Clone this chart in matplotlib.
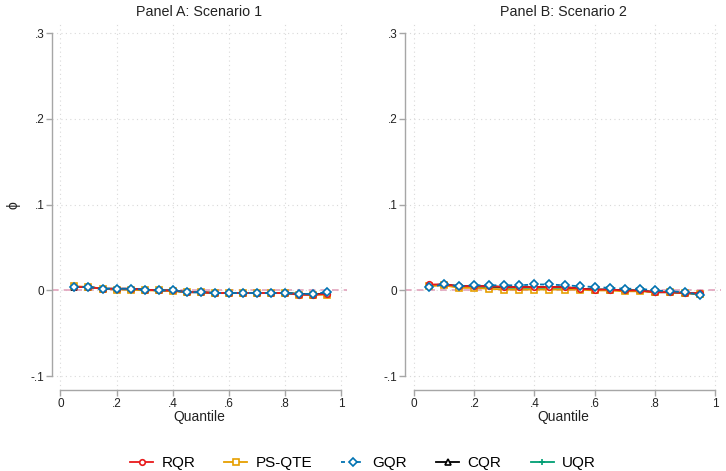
import matplotlib
matplotlib.use("Agg")
import matplotlib.pyplot as plt
from matplotlib.lines import Line2D

plt.rcParams['font.family'] = ['Liberation Sans', 'DejaVu Sans']

quantiles = [0.05, 0.10, 0.15, 0.20, 0.25, 0.30, 0.35, 0.40, 0.45, 0.50,
             0.55, 0.60, 0.65, 0.70, 0.75, 0.80, 0.85, 0.90, 0.95]

# Panel A: Scenario 1
a_rqr = [0.004, 0.004, 0.002, 0.002, 0.002, 0.001, 0.000, 0.000, -0.002, -0.002,
         -0.003, -0.003, -0.003, -0.003, -0.003, -0.003, -0.005, -0.005, -0.004]
a_psqte = [0.005, 0.004, 0.002, 0.001, 0.001, 0.000, 0.000, -0.001, -0.002, -0.002,
           -0.003, -0.003, -0.003, -0.003, -0.003, -0.003, -0.005, -0.005, -0.005]
a_gqr = [0.004, 0.004, 0.002, 0.002, 0.002, 0.001, 0.000, 0.000, -0.002, -0.002,
         -0.003, -0.003, -0.003, -0.003, -0.003, -0.003, -0.004, -0.004, -0.002]
a_cqr = [0.004, 0.004, 0.002, 0.002, 0.002, 0.001, 0.000, 0.000, -0.002, -0.002,
         -0.003, -0.003, -0.003, -0.003, -0.003, -0.003, -0.004, -0.005, -0.003]
a_uqr = [0.004, 0.004, 0.002, 0.002, 0.001, 0.001, 0.000, 0.000, -0.002, -0.002,
         -0.003, -0.003, -0.003, -0.003, -0.003, -0.003, -0.004, -0.005, -0.003]

# Panel B: Scenario 2
b_rqr = [0.007, 0.007, 0.005, 0.005, 0.005, 0.004, 0.004, 0.004, 0.004, 0.004,
         0.002, 0.001, 0.001, 0.000, 0.000, -0.002, -0.002, -0.003, -0.003]
b_psqte = [0.005, 0.006, 0.003, 0.003, 0.002, 0.001, 0.001, 0.001, 0.001, 0.001,
           0.001, 0.000, 0.000, -0.001, -0.001, -0.002, -0.002, -0.003, -0.004]
b_gqr = [0.004, 0.007, 0.005, 0.006, 0.006, 0.006, 0.006, 0.007, 0.007, 0.006,
         0.005, 0.004, 0.003, 0.002, 0.002, 0.000, -0.001, -0.002, -0.005]
b_cqr = [0.006, 0.007, 0.005, 0.005, 0.005, 0.004, 0.004, 0.004, 0.004, 0.004,
         0.002, 0.001, 0.001, 0.000, 0.000, -0.002, -0.002, -0.003, -0.004]
b_uqr = [0.006, 0.007, 0.004, 0.004, 0.004, 0.003, 0.003, 0.003, 0.003, 0.003,
         0.002, 0.001, 0.001, 0.000, 0.000, -0.002, -0.002, -0.003, -0.004]

series_names = ["RQR", "PS-QTE", "GQR", "CQR", "UQR"]
colors = {"RQR": "#e8191b", "PS-QTE": "#e69f00", "GQR": "#0072b2",
          "CQR": "#000000", "UQR": "#009e73"}
markers = {"RQR": "o", "PS-QTE": "s", "GQR": "D", "CQR": "^", "UQR": "+"}
styles = {"RQR": "-", "PS-QTE": "-", "GQR": (0, (2.2, 2.2)), "CQR": "-", "UQR": "-"}
msizes = {"RQR": 4, "PS-QTE": 4, "GQR": 3.8, "CQR": 4, "UQR": 5}
draw_order = ["UQR", "CQR", "PS-QTE", "RQR", "GQR"]

panels = [
    ("Panel A: Scenario 1", {"RQR": a_rqr, "PS-QTE": a_psqte, "GQR": a_gqr,
                             "CQR": a_cqr, "UQR": a_uqr}),
    ("Panel B: Scenario 2", {"RQR": b_rqr, "PS-QTE": b_psqte, "GQR": b_gqr,
                             "CQR": b_cqr, "UQR": b_uqr}),
]

yticks = [-0.1, 0.0, 0.1, 0.2, 0.3]
ytick_labels = ["-.1", "0", ".1", ".2", ".3"]
xticks = [0, 0.2, 0.4, 0.6, 0.8, 1.0]
xtick_labels = ["0", ".2", ".4", ".6", ".8", "1"]

fig = plt.figure(figsize=(7.26, 4.71), dpi=100)
axes_rects = [[0.0716, 0.172, 0.406, 0.776],
              [0.558, 0.172, 0.435, 0.776]]

axis_gray = "#a6a6a6"
for rect, (title, data) in zip(axes_rects, panels):
    ax = fig.add_axes(rect)
    ax.set_xlim(-0.03, 1.02)
    ax.set_ylim(-0.116, 0.31)
    for sp in ("top", "right"):
        ax.spines[sp].set_visible(False)
    ax.spines["left"].set_bounds(-0.1, 0.3)
    ax.spines["bottom"].set_bounds(0, 1)
    for sp in ("left", "bottom"):
        ax.spines[sp].set_color(axis_gray)
        ax.spines[sp].set_linewidth(1.0)
    ax.set_xticks(xticks)
    ax.set_xticklabels(xtick_labels)
    ax.set_yticks(yticks)
    ax.set_yticklabels(ytick_labels)
    ax.tick_params(axis="both", colors=axis_gray, labelcolor="#222222",
                   labelsize=8.5, length=4, width=1.0, direction="out", pad=1.5)
    ax.grid(True, color="#d9d9d9", linestyle=(0, (1, 3)), linewidth=0.8)
    ax.set_axisbelow(True)
    ax.axhline(0, color="#e2a3bc", linestyle=(0, (4, 3)), linewidth=1.2, zorder=1)
    for name in draw_order:
        ax.plot(quantiles, data[name], color=colors[name], linestyle=styles[name],
                linewidth=1.3, marker=markers[name], markersize=msizes[name],
                markerfacecolor="white", markeredgecolor=colors[name],
                markeredgewidth=1.2, zorder=3)
    ax.set_title(title, fontsize=10.3, color="#222222", pad=6)
    ax.set_xlabel("Quantile", fontsize=10, color="#222222", labelpad=0)

fig.text(0.018, 0.565, "ϕ", rotation=90, fontsize=10, color="#222222",
         ha="center", va="center")

handles = [Line2D([], [], color=colors[n], linestyle=styles[n], linewidth=1.3,
                  marker=markers[n], markersize=msizes[n], markerfacecolor="white",
                  markeredgecolor=colors[n], markeredgewidth=1.2)
           for n in series_names]
fig.legend(handles, series_names, loc="center", bbox_to_anchor=(0.5, 0.017),
           ncol=5, frameon=False, fontsize=11, handlelength=1.5,
           columnspacing=1.9, handletextpad=0.55)

fig.savefig("out.png", dpi=100, facecolor="white")
